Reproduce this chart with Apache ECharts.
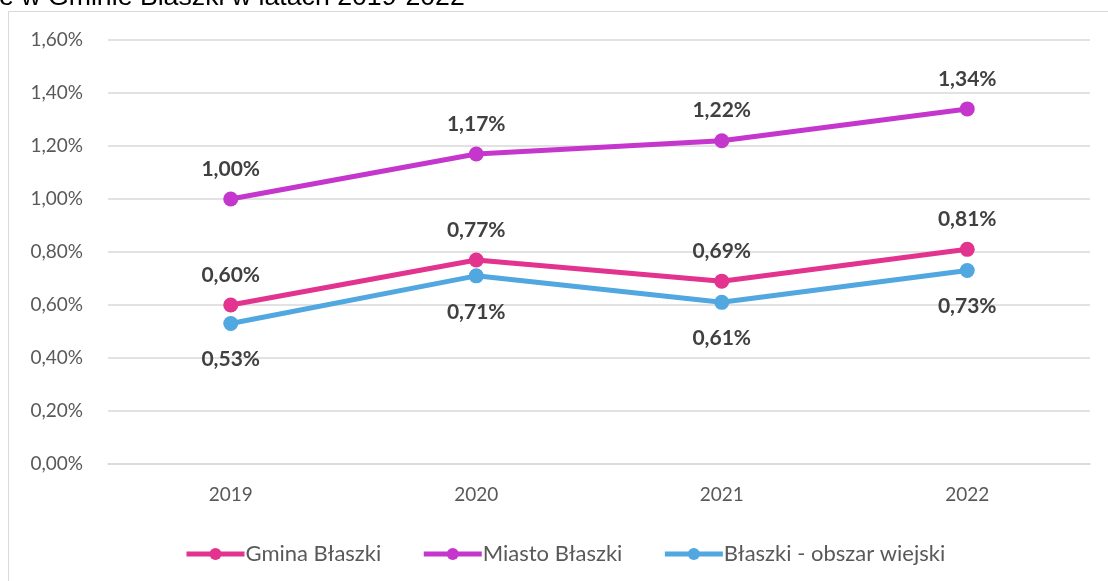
<!DOCTYPE html>
<html>
<head>
<meta charset="utf-8">
<script src="https://cdn.jsdelivr.net/npm/echarts@6/dist/echarts.min.js"></script>
<style>
  html, body { margin: 0; padding: 0; background: #fff; }
  #main { width: 1108px; height: 581px; }
</style>
</head>
<body>
<div id="main"></div>
<script>
const years = ['2019', '2020', '2021', '2022']
const gmina = [0.60, 0.77, 0.69, 0.81]
const miasto = [1.00, 1.17, 1.22, 1.34]
const wies = [0.53, 0.71, 0.61, 0.73]
const seriesNames = ['Gmina Błaszki', 'Miasto Błaszki', 'Błaszki - obszar wiejski']

const fmt = (v) => v.toFixed(2).replace('.', ',') + '%'
const font = 'Lato, "Open Sans", sans-serif'

function makeSeries(name, data, color, pos) {
  return {
    name: name,
    type: 'line',
    data: data,
    symbol: 'circle',
    symbolSize: 15,
    lineStyle: { color: color, width: 5 },
    itemStyle: { color: color },
    label: {
      show: true,
      position: pos,
      distance: pos === 'top' ? 12 : 18,
      formatter: (p) => fmt(p.value),
      fontFamily: font,
      fontSize: 21,
      fontWeight: 'bold',
      color: '#404040',
    },
  }
}

const myChart = echarts.init(document.getElementById('main'))
const option = {
  animation: false,
  title: {
    text: 'e w Gminie Błaszki w latach 2019-2022',
    left: -1,
    top: -16,
    padding: 0,
    textStyle: { fontFamily: '"Liberation Sans", Arial, sans-serif', fontSize: 26.7, fontWeight: 'normal', color: '#000' },
  },
  graphic: [
    {
      type: 'rect',
      shape: { x: 8.5, y: 11.5, width: 1300, height: 800 },
      style: { fill: 'none', stroke: '#d9d9d9', lineWidth: 1 },
      silent: true,
      z: -1,
    },
  ],
  grid: { left: 108, right: 18, top: 40, bottom: 117 },
  legend: {
    bottom: 16,
    left: 184,
    padding: 0,
    itemWidth: 58,
    itemHeight: 15,
    itemGap: 40,
    data: seriesNames,
    lineStyle: { width: 5 },
    textStyle: { fontFamily: font, fontSize: 22, color: '#595959', padding: [0, 0, 0, -4] },
  },
  xAxis: {
    type: 'category',
    data: years,
    boundaryGap: true,
    axisLine: { lineStyle: { color: '#d9d9d9', width: 1.5 } },
    axisTick: { show: false },
    axisLabel: { fontFamily: font, fontSize: 19, color: '#595959', margin: 21 },
  },
  yAxis: {
    type: 'value',
    min: 0,
    max: 1.6,
    interval: 0.2,
    axisLine: { show: false },
    axisTick: { show: false },
    splitLine: { lineStyle: { color: '#d9d9d9', width: 1.5 } },
    axisLabel: { fontFamily: font, fontSize: 19, color: '#595959', margin: 25, formatter: (v) => fmt(v) },
  },
  series: [
    makeSeries(seriesNames[0], gmina, '#E2338F', 'top'),
    makeSeries(seriesNames[1], miasto, '#C536CD', 'top'),
    makeSeries(seriesNames[2], wies, '#51A7DF', 'bottom'),
  ],
}
option && myChart.setOption(option)
</script>
</body>
</html>
